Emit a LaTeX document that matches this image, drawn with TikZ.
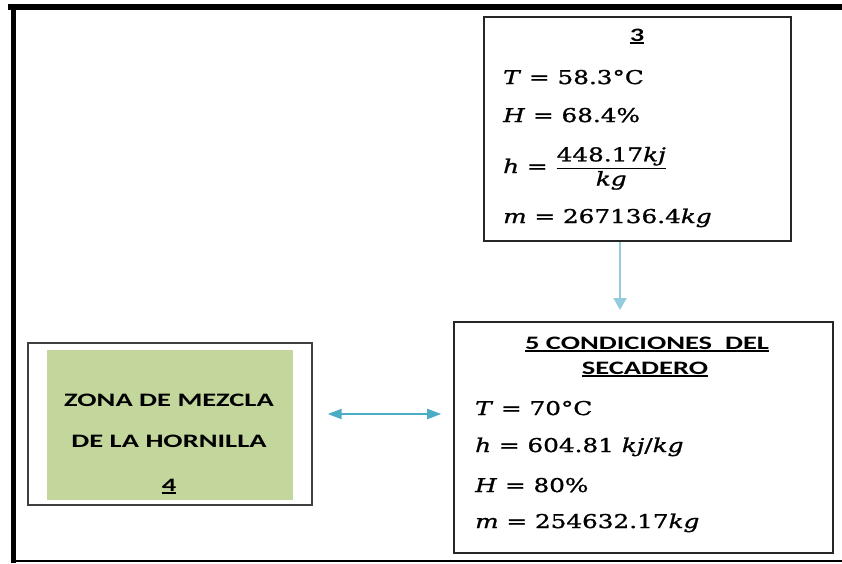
\documentclass[tikz,border=0pt]{standalone}
\usepackage{amsmath}
\usepackage{fontspec}
\setmainfont{DejaVu Serif}
\newfontfamily\eqfont[FakeStretch=1.3,FakeBold=1.2]{DejaVu Serif}
\newfontfamily\hdfont[FakeStretch=1.5]{Carlito}
\usetikzlibrary{arrows.meta}

\definecolor{mixgreen}{HTML}{C3D69B}
\definecolor{linkblue}{HTML}{4BACC6}
\definecolor{flowblue}{HTML}{93CDDD}

\newcommand{\ulbar}[1]{\setbox0\hbox{#1}\rlap{\rule[-3pt]{\wd0}{1.6pt}}\box0}

\tikzset{
  databox/.style={draw=black!85, line width=1.6pt, inner sep=0pt},
  eqline/.style={anchor=base west, inner sep=0pt, font=\eqfont\fontsize{19}{22}\selectfont},
  headtext/.style={anchor=base, inner sep=0pt, font=\hdfont\bfseries\fontsize{19}{22}\selectfont},
}

\begin{document}
\begin{tikzpicture}[x=1pt,y=-1pt]
\useasboundingbox (0,0) rectangle (842,563);

\draw[line width=6pt] (8,7) -- (842,7);
\draw[line width=5pt] (13,4) -- (13,563);
\draw[line width=2pt] (13,561) -- (842,561);

\node[databox, minimum width=307pt, minimum height=224pt] (box3) at (637.5,129) {};
\node[headtext] (t3) at (637,41) {\ulbar{3}};
\node[eqline] (T3) at (503,84) {\textit{T} = 58.3°C};
\node[eqline] (H3) at (503,122) {\textit{H} = 68.4\%};
\node[eqline] (h3) at (503,173) {\textit{h} = $\dfrac{\text{448.17\textit{kj}}}{\text{\textit{kg}}}$};
\node[eqline] (m3) at (503,223) {\textit{m} = 267136.4\textit{kg}};

\node[databox, minimum width=379pt, minimum height=231pt] (box5) at (643.5,437.5) {};
\node[headtext] (t5a) at (647,349) {\ulbar{5 CONDICIONES\ \ DEL}};
\node[headtext] (t5b) at (645,374) {\ulbar{SECADERO}};
\node[eqline] (T5) at (475,415) {\textit{T} = 70°C};
\node[eqline] (h5) at (475,452) {\textit{h} = 604.81 \textit{kj}/\textit{kg}};
\node[eqline] (H5) at (475,492) {\textit{H} = 80\%};
\node[eqline] (m5) at (475,528) {\textit{m} = 254632.17\textit{kg}};

\node[draw=black!75, line width=1.4pt, minimum width=284pt, minimum height=162pt] (box4) at (170,424) {};
\node[fill=mixgreen, minimum width=246pt, minimum height=150pt] (zone) at (170,425) {};
\node[headtext] (t4a) at (169,406) {ZONA DE MEZCLA};
\node[headtext] (t4b) at (169,447) {DE LA HORNILLA};
\node[headtext] (t4c) at (169,491) {\ulbar{4}};

\coordinate (in5) at (620,310);
\draw[flowblue, line width=2pt, -{Triangle[length=12pt,width=13pt]}] (box3.south -| in5) -- (in5);

\coordinate (ya) at (0,414);
\draw[linkblue, line width=2pt, {Triangle[length=14pt,width=10pt]}-{Triangle[length=14pt,width=10pt]}, shorten <=15pt, shorten >=12pt] (box4.east |- ya) -- (box5.west |- ya);
\end{tikzpicture}
\end{document}
